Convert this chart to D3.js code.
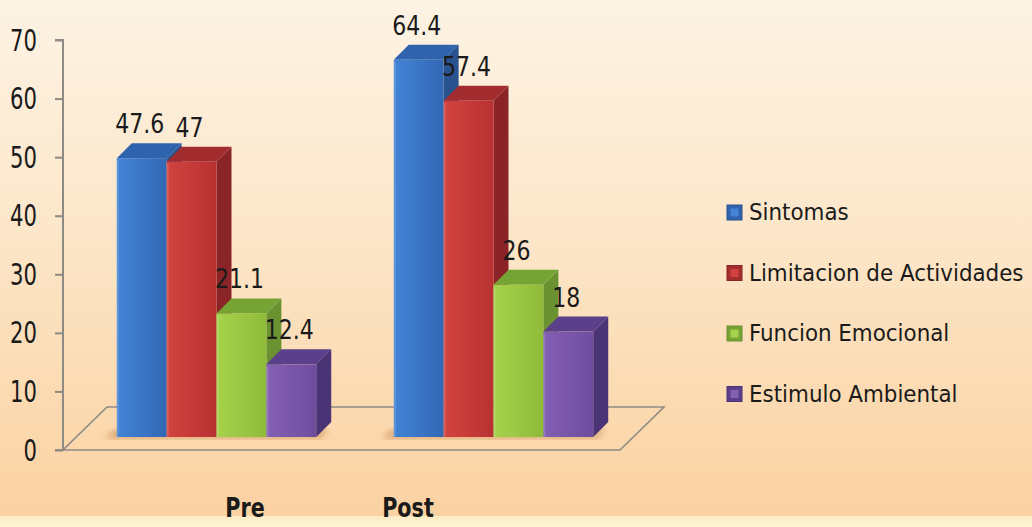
<!DOCTYPE html>
<html>
<head>
<meta charset="utf-8">
<script src="https://cdn.jsdelivr.net/npm/d3@7"></script>
<style>
  html, body { margin: 0; padding: 0; }
  body { width: 1032px; height: 527px; overflow: hidden; }
  svg { display: block; }
  text { font-family: "DejaVu Sans", sans-serif; font-stretch: condensed; fill: #1a1a1a; }
</style>
</head>
<body>
<svg id="chart" width="1032" height="527"></svg>
<script>
// ---- data ----
const categories = ["Pre", "Post"];
const seriesNames = ["Sintomas", "Limitacion de Actividades", "Funcion Emocional", "Estimulo Ambiental"];
const preValues = [47.6, 47, 21.1, 12.4];
const postValues = [64.4, 57.4, 26, 18];
const yTickValues = [0, 10, 20, 30, 40, 50, 60, 70];

// ---- styles ----
const palette = [
  { front: ["#4384d6", "#3267b5"], side: "#29538f", top: "#2f63ad" },
  { front: ["#d2433f", "#b83131"], side: "#8b2426", top: "#a22c2e" },
  { front: ["#a6d24c", "#8fbb3a"], side: "#6a9230", top: "#76a434" },
  { front: ["#8460b4", "#6f4d9e"], side: "#4b3476", top: "#5c3f8b" }
];

const W = 1032, H = 527;
const svg = d3.select("#chart");
const defs = svg.append("defs");

// background
const bg = defs.append("linearGradient").attr("id", "bg").attr("x1", 0).attr("y1", 0).attr("x2", 0).attr("y2", 1);
bg.append("stop").attr("offset", "0%").attr("stop-color", "#fdf3e4");
bg.append("stop").attr("offset", "45%").attr("stop-color", "#fce6c8");
bg.append("stop").attr("offset", "97%").attr("stop-color", "#fbd2a2");
svg.append("rect").attr("width", W).attr("height", H).attr("fill", "url(#bg)");
const strip = defs.append("linearGradient").attr("id", "strip").attr("x1", 0).attr("y1", 0).attr("x2", 0).attr("y2", 1);
strip.append("stop").attr("offset", "0%").attr("stop-color", "#fdebc4");
strip.append("stop").attr("offset", "100%").attr("stop-color", "#fff8d2");
svg.append("rect").attr("x", 0).attr("y", 516).attr("width", W).attr("height", H - 516).attr("fill", "url(#strip)");

palette.forEach((p, i) => {
  const g = defs.append("linearGradient").attr("id", "front" + i).attr("x1", 0).attr("y1", 0).attr("x2", 1).attr("y2", 0);
  g.append("stop").attr("offset", "0%").attr("stop-color", p.front[0]);
  g.append("stop").attr("offset", "100%").attr("stop-color", p.front[1]);
});
defs.append("filter").attr("id", "blur").append("feGaussianBlur").attr("stdDeviation", 3);

// ---- scales ----
const yAxisScale = d3.scaleLinear().domain([0, 70]).range([450, 40]);
const yBar = d3.scaleLinear().domain([0, 70]).range([437, 27]);
const x0 = d3.scaleBand().domain(categories).range([78, 632]).paddingInner(0.28).paddingOuter(0.14);
const x1 = d3.scaleBand().domain(seriesNames).range([0, x0.bandwidth()]);
const labelX = d3.scalePoint().domain(categories).range([245, 408]);

const DX = 15, DY = -15;          // bar depth
const FDX = 44, FDY = -43;        // floor depth
const axisX = 63;

// floor
const floorFrontRight = 620;
svg.append("path")
  .attr("d", `M${axisX},${yAxisScale(0)} L${floorFrontRight},${yAxisScale(0)} L${floorFrontRight + FDX},${yAxisScale(0) + FDY} L${axisX + FDX},${yAxisScale(0) + FDY} Z`)
  .attr("fill", "none").attr("stroke", "#8e8a84").attr("stroke-width", 1.6);

// y axis
const yAxis = d3.axisLeft(yAxisScale).tickValues(yTickValues).tickSize(8).tickPadding(18).tickFormat(d3.format("d"));
const ax = svg.append("g").attr("transform", `translate(${axisX},0)`).call(yAxis);
ax.select(".domain").attr("stroke", "#8e8a84").attr("stroke-width", 2).attr("d", `M-8,${yAxisScale(70)}H0V${yAxisScale(0)}H-8`);
ax.selectAll(".tick line").attr("stroke", "#8e8a84").attr("stroke-width", 2);
ax.selectAll(".tick text")
  .attr("font-size", 23.5).attr("fill", "#1a1a1a")
  .attr("font-family", "DejaVu Sans").style("font-stretch", "condensed")
  .attr("dy", null).attr("y", 0)
  .attr("transform", "translate(0,10) scale(1,1.25)");

// bars
const data = categories.map((c, ci) => ({
  cat: c,
  vals: seriesNames.map((s, si) => ({ s, si, v: (ci === 0 ? preValues : postValues)[si] }))
}));

const groups = svg.selectAll("g.cat").data(data).join("g").attr("class", "cat")
  .attr("transform", d => `translate(${x0(d.cat)},0)`);

// shadow at base
groups.append("path")
  .attr("d", d => {
    const b = yBar(0);
    return `M-12,${b + 2} L${x0.bandwidth() + 4},${b + 2} L${x0.bandwidth() + 12},${b - 8} L-2,${b - 8} Z`;
  })
  .attr("fill", "#b9773a").attr("opacity", 0.45).attr("filter", "url(#blur)");

const bars = groups.selectAll("g.bar").data(d => d.vals).join("g").attr("class", "bar");
bars.each(function (d) {
  const g = d3.select(this);
  const xl = x1(d.s), w = x1.bandwidth();
  const yt = yBar(d.v), yb = yBar(0);
  const p = palette[d.si];
  // side
  g.append("path")
    .attr("d", `M${xl + w},${yt} L${xl + w + DX},${yt + DY} L${xl + w + DX},${yb + DY} L${xl + w},${yb} Z`)
    .attr("fill", p.side);
  // top
  g.append("path")
    .attr("d", `M${xl},${yt} L${xl + DX},${yt + DY} L${xl + w + DX},${yt + DY} L${xl + w},${yt} Z`)
    .attr("fill", p.top);
  // front
  g.append("rect").attr("x", xl).attr("y", yt).attr("width", w).attr("height", yb - yt)
    .attr("fill", `url(#front${d.si})`);
  // subtle edge highlight
  g.append("line").attr("x1", xl + 1).attr("x2", xl + 1).attr("y1", yt + 2).attr("y2", yb)
    .attr("stroke", "#ffffff").attr("stroke-opacity", 0.15).attr("stroke-width", 2);
});

// data labels (drawn after all bars so they are on top)
groups.selectAll("text.val").data(d => d.vals).join("text").attr("class", "val")
  .attr("text-anchor", "middle")
  .attr("font-size", 24.5)
  .attr("transform", d => `translate(${x1(d.s) + x1.bandwidth() / 2 - 2},${yBar(d.v) - 25}) scale(1,1.05)`)
  .text(d => d3.format("")(d.v));

// category labels
svg.selectAll("text.cat").data(categories).join("text").attr("class", "cat")
  .attr("text-anchor", "middle")
  .attr("font-size", 23).attr("font-weight", "bold")
  .attr("transform", d => `translate(${labelX(d)},517) scale(1,1.15)`)
  .text(d => d);

// legend
const legend = svg.append("g").attr("transform", "translate(727,0)");
const li = legend.selectAll("g").data(seriesNames).join("g")
  .attr("transform", (d, i) => `translate(0,${220 + i * 60.5})`);
li.append("rect").attr("x", 0).attr("y", -15).attr("width", 15).attr("height", 15)
  .attr("fill", (d, i) => palette[i].top).attr("stroke", (d, i) => palette[i].side).attr("stroke-width", 1);
li.append("rect").attr("x", 3.5).attr("y", -11.5).attr("width", 8).attr("height", 8)
  .attr("fill", (d, i) => palette[i].front[0]);
li.append("text").attr("x", 22).attr("y", 0)
  .attr("font-size", 23.8)
  .text(d => d);
</script>
</body>
</html>
